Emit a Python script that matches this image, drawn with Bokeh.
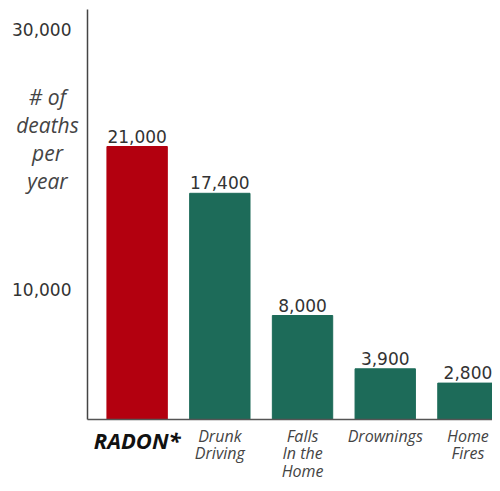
from bokeh.plotting import figure
from bokeh.models import Range1d, ColumnDataSource
from bokeh.core.properties import value
from bokeh.embed import file_html
from bokeh.resources import INLINE

categories = ["RADON*", "Drunk\nDriving", "Falls\nIn the\nHome", "Drownings", "Home\nFires"]
deaths = [21000, 17400, 8000, 3900, 2800]
y_ticks = [10000, 30000]
y_title = "# of\ndeaths\nper\nyear"

RED = "#b3000f"
GREEN = "#1d6b59"
AXIS_X = -0.60      # position of the vertical axis line (in category units)
Y_TOP = 31540       # top of the vertical axis line

xs = list(range(len(categories)))
colors = [RED] + [GREEN] * (len(categories) - 1)
src = ColumnDataSource(dict(
    x=xs, top=deaths, color=colors,
    vlabel=[f"{v:,}" for v in deaths],
))

p = figure(width=492, height=483, output_backend="svg", toolbar_location=None,
           x_range=Range1d(-1.652, 4.297), y_range=Range1d(-4923, 32231),
           min_border=0)
p.outline_line_color = None
p.grid.grid_line_color = None
p.axis.visible = False
p.background_fill_color = "white"

p.vbar(x="x", top="top", width=0.73, bottom=0, color="color", source=src)

# axis lines
p.segment(x0=[AXIS_X], y0=[0], x1=[AXIS_X], y1=[Y_TOP], line_color="#444444", line_width=1.5)
p.segment(x0=[AXIS_X], y0=[0], x1=[p.x_range.end], y1=[0], line_color="#555555", line_width=1.5)

# y tick labels
p.text(x=[AXIS_X] * len(y_ticks), y=y_ticks, text=[f"{t:,}" for t in y_ticks],
       x_offset=-16, text_align="right", text_baseline="middle",
       text_font=value("DejaVu Sans"), text_font_size="17px", text_color="#333333")

# y title
p.text(x=[AXIS_X], y=[25900], text=[y_title], x_offset=-40,
       text_align="center", text_baseline="top",
       text_font=value("Open Sans"), text_font_size="21px", text_font_style="italic",
       text_color="#444444", text_line_height=1.0)

# value labels
p.text(x="x", y="top", text="vlabel", source=src, y_offset=-4,
       text_align="center", text_baseline="bottom",
       text_font=value("DejaVu Sans"), text_font_size="17px", text_color="#333333")

# category labels
cat_src = ColumnDataSource(dict(
    x=xs, y=[0] * len(xs), text=categories,
    style=["bold italic"] + ["italic"] * (len(xs) - 1),
    size=["22px"] + ["16px"] * (len(xs) - 1),
    color=["#111111"] + ["#444444"] * (len(xs) - 1),
))
p.text(x="x", y="y", text="text", source=cat_src, y_offset=5,
       text_align="center", text_baseline="top",
       text_font=value("Open Sans"), text_font_size="size",
       text_font_style="style", text_color="color", text_line_height=0.8)

open("out.html", "w").write(file_html(p, INLINE))
